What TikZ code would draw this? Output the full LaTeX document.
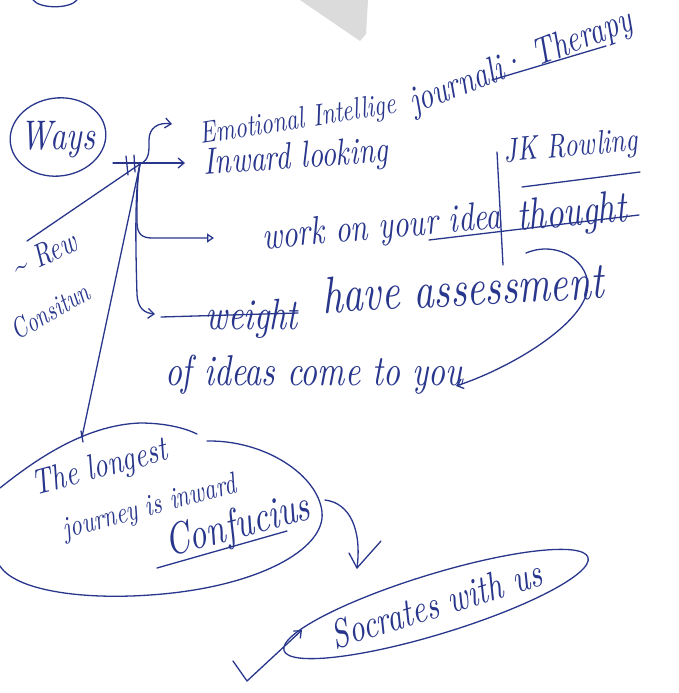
\documentclass[tikz,border=0pt]{standalone}
\usepackage{graphicx}
\usetikzlibrary{arrows.meta,calc,shapes.geometric}
\definecolor{ink}{RGB}{40,54,140}
\newcommand{\fw}[2]{\resizebox{#1pt}{!}{\scalebox{1}[1.3]{\itshape #2}}}
\begin{document}
\begin{tikzpicture}[x=1pt,y=-1pt,
  pen/.style={draw=ink, line width=1.3pt, line cap=round, line join=round},
  txt/.style={text=ink, inner sep=0pt, outer sep=0pt},
  barb/.style={-{Straight Barb[length=6pt,width=10pt]}},
  openhead/.style={-{Triangle[open,length=7pt,width=9pt]}}]
\useasboundingbox[fill=white] (0,0) rectangle (679,693);

% faint grey wedge at top
\fill[gray!28] (300,0) -- (368,0) -- (366,34) -- (360,41) -- cycle;
% partial circle at top left
\draw[pen] (33,0) .. controls (40,9) and (70,9) .. (77,0);

% Ways
\node[pen, ellipse, rotate=8, minimum width=96pt, minimum height=78pt, inner sep=0pt] (waysE) at (58,137) {};
\node[txt] (ways) at (58,140) {\fw{74}{Ways}};

% texts
\node[txt, rotate=9] (emo1) at (298,121) {\fw{198}{Emotional Intellige}};
\node[txt, rotate=21] (emo2) at (521,63) {\fw{236}{journali· Therapy}};
\node[txt, rotate=4] (inw) at (296,159) {\fw{184}{Inward looking}};
\node[txt, rotate=5] (jk) at (571,148) {\fw{134}{JK Rowling}};
\node[txt, rotate=5] (work) at (382,229) {\fw{240}{work on your idea}};
\node[txt, rotate=5] (thought) at (572,215) {\fw{110}{thought}};
\node[txt] (weight) at (252,319) {\fw{92}{weight}};
\node[txt, rotate=3] (assess) at (463,288) {\fw{282}{have assessment}};
\node[txt] (ideas) at (314,375) {\fw{298}{of ideas come to you}};
\node[txt, rotate=25] (rew) at (44,254) {\fw{68}{\textasciitilde{} Rew}};
\node[txt, rotate=30] (cons) at (50,311) {\fw{86}{Consitun}};
\node[txt, rotate=15] (c1) at (100,469) {\fw{138}{The longest}};
\node[txt, rotate=15] (c2) at (150,508) {\fw{178}{journey is inward}};
\node[txt, rotate=15] (c3) at (238,527) {\fw{148}{Confucius}};
\node[pen, ellipse, rotate=17, minimum width=318pt, minimum height=60pt, inner sep=0pt, text=ink] (soc) at (436,604) {\fw{218}{Socrates with us}};

% coordinates
\coordinate (J) at (140,164);
\coordinate (waysR) at (113,163);
\coordinate (inwA) at (185,163);
\coordinate (emoA) at (172,124);
\coordinate (workA) at (214,238);
\coordinate (wA) at (155,314);
\coordinate (rewL) at (27,241);
\coordinate (cloudT) at (82,437);
\coordinate (jkT) at (497,152);
\coordinate (jkB) at (503,265);
\coordinate (arcS) at (526,253);
\coordinate (arcE) at (456,386);
\coordinate (conS) at (325,500);
\coordinate (socA) at (357,568);
\coordinate (tick1) at (233,661);
\coordinate (tick2) at (247,681);
\coordinate (tick3) at (302,630);

% connectors
\draw[pen, barb] (waysR) -- (inwA);
\draw[pen] (126,156) -- (128,175);
\draw[pen] (134,155) -- (135,172);
\draw[pen, barb] (J) .. controls (150,160) and (149,150) .. (149,140) .. controls (149,128) and (158,122) .. (emoA);
\draw[pen, openhead] (J) .. controls (137,180) and (137,200) .. (137,222) .. controls (137,234) and (142,238) .. (152,238) -- (workA);
\draw[pen, barb] (J) .. controls (134,190) and (136,260) .. (137,295) .. controls (138,308) and (144,313) .. (wA);
\draw[pen] ($(weight.west)+(-45,-2)$) -- ($(weight.east)+(0,-6)$);
\draw[pen] (J) -- (rewL);
\draw[pen] (J) -- (cloudT);
\draw[pen] (81,431) -- (83,442);
\draw[pen] (jkT) -- (jkB);

% underlines
\draw[pen] (492,80) -- (606,46);
\draw[pen] (522,187) -- (640,172);
\draw[pen] (429,240) -- (639,215);
\draw[pen] (157,568) -- (287,531);

% curved arrow to "you"
\draw[pen, barb] (arcS) .. controls (562,238) and (598,268) .. (585,298) .. controls (572,330) and (510,368) .. (arcE);

% cloud
\draw[pen] (0,488) .. controls (35,460) and (85,425) .. (140,423) .. controls (165,423) and (185,428) .. (197,434);
\draw[pen] (207,441) .. controls (265,440) and (318,475) .. (322,512) .. controls (326,550) and (255,588) .. (150,595) .. controls (80,600) and (15,590) .. (0,566);

% Confucius -> Socrates
\draw[pen] (conS) .. controls (350,503) and (362,530) .. (socA);
\draw[pen] ($(socA)+(-8,-15)$) -- (socA) -- ($(socA)+(24,-27)$);

% tick with arrow
\draw[pen, barb] (tick1) -- (tick2) -- (tick3);
\end{tikzpicture}
\end{document}
